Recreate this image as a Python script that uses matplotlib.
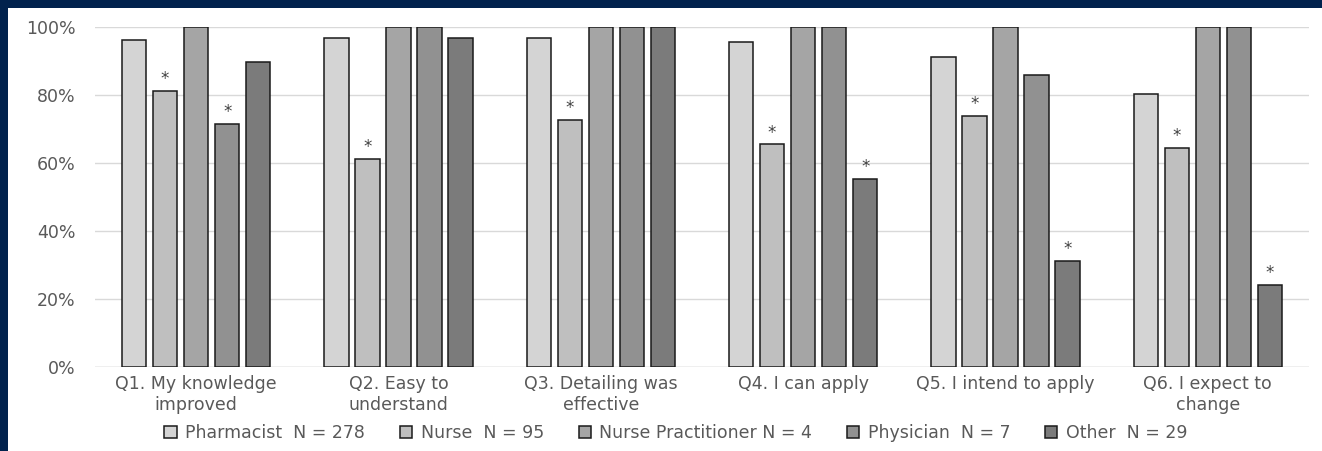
import numpy as np
import matplotlib.pyplot as plt
from matplotlib.patches import Rectangle

questions = ['Q1. My knowledge\nimproved', 'Q2. Easy to\nunderstand', 'Q3. Detailing was\neffective',
             'Q4. I can apply', 'Q5. I intend to apply', 'Q6. I expect to\nchange']
groups = ['Pharmacist  N = 278', 'Nurse  N = 95', 'Nurse Practitioner N = 4', 'Physician  N = 7', 'Other  N = 29']
pharmacist = [96.0, 96.6, 96.6, 95.3, 91.0, 80.2]
nurse = [81.1, 61.1, 72.6, 65.3, 73.7, 64.2]
nurse_pract = [100, 100, 100, 100, 100, 100]
physician = [71.4, 100, 100, 100, 85.7, 100]
other = [89.7, 96.6, 100, 55.2, 31.0, 24.1]
# significance markers (group index, question index)
starred = [(1, 0), (3, 0), (1, 1), (1, 2), (1, 3), (4, 3), (1, 4), (4, 4), (1, 5), (4, 5)]

colors = ['#d4d4d4', '#bfbfbf', '#a5a5a5', '#919191', '#7b7b7b']
series = [pharmacist, nurse, nurse_pract, physician, other]

fig = plt.figure(figsize=(13.22, 4.51), dpi=100)
fig.patch.set_facecolor('#01224d')
fig.patches.append(Rectangle((8/1322, 0), 1, 1 - 8/451, transform=fig.transFigure,
                             facecolor='white', edgecolor='none', zorder=-10))

ax = fig.add_axes([95/1322, 1 - 366.5/451, 1214/1322, 340/451])
ax.set_zorder(5)
ax.set_facecolor('white')
x = np.arange(len(questions))
step = 0.1535
width = 0.12
for i, (vals, c, lab) in enumerate(zip(series, colors, groups)):
    ax.bar(x + (i - 2) * step, vals, width, color=c, edgecolor='#1a1a1a', linewidth=1.1,
           label=lab, zorder=3)
for g, q in starred:
    ax.text(q + (g - 2) * step, series[g][q] + 0.8, '*', ha='center', va='bottom',
            fontsize=12, color='#404040', zorder=4)

ax.set_xlim(-0.5, 5.5)
ax.set_ylim(0, 100)
ax.set_yticks([0, 20, 40, 60, 80, 100])
ax.set_yticklabels(['0%', '20%', '40%', '60%', '80%', '100%'])
ax.set_xticks(x)
ax.set_xticklabels(questions, linespacing=1.2)
ax.yaxis.grid(True, color='#d9d9d9', linewidth=1, zorder=0)
for s in ax.spines.values():
    s.set_visible(False)
ax.axhline(0, color='#d0d0d0', linewidth=1, zorder=2)
ax.tick_params(axis='both', length=0, colors='#595959', labelsize=12.5)
ax.tick_params(axis='y', pad=14)
ax.tick_params(axis='x', pad=6)

ax.legend(loc='center', bbox_to_anchor=(676/1322, 1 - 433/451), bbox_transform=fig.transFigure,
          ncol=5, frameon=False, fontsize=12.5, handlelength=0.7, handleheight=0.7,
          handletextpad=0.5, columnspacing=2.0, labelcolor='#595959')

plt.savefig('out.png', dpi=100, facecolor=fig.get_facecolor())
